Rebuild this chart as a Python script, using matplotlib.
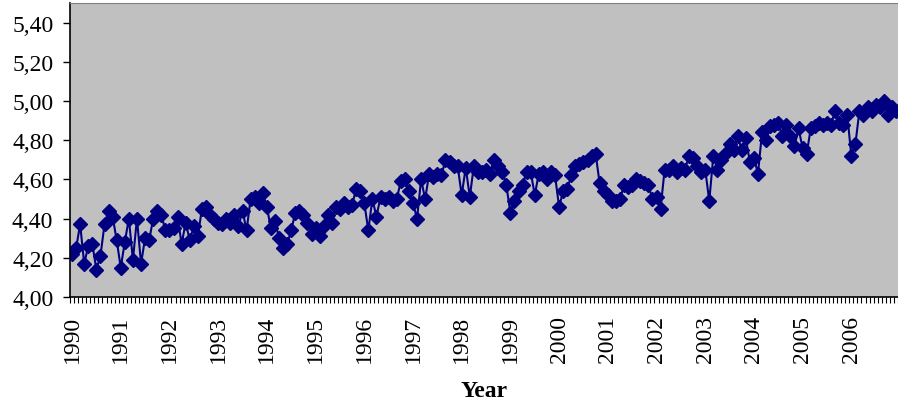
#!/usr/bin/env python3

import matplotlib
matplotlib.use("Agg")
import matplotlib.pyplot as plt
from matplotlib.ticker import FuncFormatter

# monthly values, one list per year
v1990 = [4.22, 4.25, 4.37, 4.17, 4.26, 4.27, 4.14, 4.21, 4.37, 4.44, 4.41, 4.29]
v1991 = [4.15, 4.28, 4.40, 4.19, 4.40, 4.17, 4.30, 4.29, 4.40, 4.44, 4.42, 4.34]
v1992 = [4.34, 4.35, 4.41, 4.27, 4.38, 4.29, 4.36, 4.31, 4.45, 4.46, 4.42, 4.40]
v1993 = [4.38, 4.37, 4.40, 4.38, 4.42, 4.36, 4.44, 4.34, 4.50, 4.51, 4.48, 4.53]
v1994 = [4.46, 4.35, 4.39, 4.30, 4.25, 4.27, 4.34, 4.43, 4.44, 4.42, 4.38, 4.32]
v1995 = [4.35, 4.31, 4.36, 4.42, 4.38, 4.46, 4.45, 4.48, 4.46, 4.47, 4.55, 4.54]
v1996 = [4.48, 4.34, 4.50, 4.41, 4.51, 4.50, 4.51, 4.49, 4.50, 4.59, 4.60, 4.54]
v1997 = [4.48, 4.40, 4.60, 4.50, 4.63, 4.61, 4.63, 4.62, 4.70, 4.69, 4.67, 4.67]
v1998 = [4.52, 4.66, 4.51, 4.67, 4.64, 4.64, 4.65, 4.63, 4.70, 4.67, 4.64, 4.57]
v1999 = [4.43, 4.49, 4.54, 4.57, 4.64, 4.64, 4.52, 4.63, 4.64, 4.60, 4.64, 4.62]
v2000 = [4.46, 4.54, 4.55, 4.62, 4.67, 4.68, 4.69, 4.70, 4.72, 4.73, 4.58, 4.54]
v2001 = [4.52, 4.49, 4.49, 4.50, 4.57, 4.56, 4.57, 4.60, 4.59, 4.58, 4.57, 4.50]
v2002 = [4.51, 4.45, 4.65, 4.65, 4.67, 4.64, 4.66, 4.65, 4.72, 4.71, 4.67, 4.64]
v2003 = [4.65, 4.49, 4.72, 4.65, 4.70, 4.73, 4.78, 4.75, 4.82, 4.75, 4.81, 4.69]
v2004 = [4.71, 4.63, 4.84, 4.80, 4.87, 4.88, 4.89, 4.82, 4.88, 4.82, 4.77, 4.86]
v2005 = [4.76, 4.73, 4.86, 4.87, 4.89, 4.88, 4.89, 4.88, 4.95, 4.89, 4.88, 4.93]
v2006 = [4.72, 4.78, 4.95, 4.93, 4.97, 4.95, 4.98, 4.97, 5.00, 4.93, 4.97, 4.95]

years = list(range(1990, 2007))
yticks = [4.0, 4.2, 4.4, 4.6, 4.8, 5.0, 5.2, 5.4]

values = (v1990 + v1991 + v1992 + v1993 + v1994 + v1995 + v1996 + v1997 +
          v1998 + v1999 + v2000 + v2001 + v2002 + v2003 + v2004 + v2005 + v2006)
idx = list(range(len(values)))

plt.rcParams['font.family'] = ['Liberation Serif', 'DejaVu Serif']

fig = plt.figure(figsize=(8.98, 4.06), dpi=100)
ax = fig.add_axes([70 / 898, 1 - 298 / 406, (898 - 70) / 898, (298 - 4) / 406])
ax.set_facecolor('#C0C0C0')

ax.plot(idx, values, color='#000080', linewidth=1.5, marker='D',
        markersize=7, markerfacecolor='#000080', markeredgecolor='#000080')

ax.set_xlim(-0.5, 201.9)
ax.set_ylim(4.0, 5.5)

ax.set_yticks(yticks)
ax.yaxis.set_major_formatter(FuncFormatter(lambda v, p: f"{v:.2f}".replace('.', ',')))
ax.tick_params(axis='y', direction='out', length=5, width=1, labelsize=17, pad=7)

# month tick marks between categories, year labels on January
ax.set_xticks([i - 0.5 for i in idx] + [len(idx) - 0.5], minor=True)
ax.set_xticks([12 * k for k in range(len(years))])
ax.set_xticklabels([str(y) for y in years], rotation=90, fontsize=17)
ax.tick_params(axis='x', which='major', length=0, pad=13)
ax.tick_params(axis='x', which='minor', direction='out', length=4, width=0.8)

ax.spines['right'].set_visible(False)
ax.spines['top'].set_color('#808080')
ax.spines['left'].set_linewidth(1.2)
ax.spines['bottom'].set_linewidth(1.2)

ax.set_xlabel('Year', fontsize=17, fontweight='bold', labelpad=13)

fig.savefig('out.png', dpi=100)
